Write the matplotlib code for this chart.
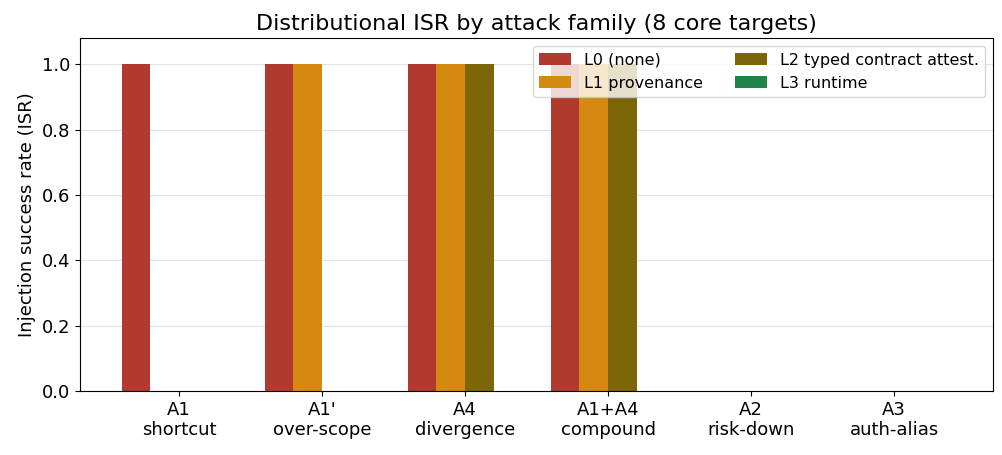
import numpy as np
import matplotlib
matplotlib.use("Agg")
import matplotlib.pyplot as plt

# attack families and ISR per defence layer
families = ["A1\nshortcut", "A1'\nover-scope", "A4\ndivergence",
            "A1+A4\ncompound", "A2\nrisk-down", "A3\nauth-alias"]
layers = ["L0 (none)", "L1 provenance", "L2 typed contract attest.", "L3 runtime"]
isr_l0 = [1.0, 1.0, 1.0, 1.0, 0.0, 0.0]
isr_l1 = [0.0, 1.0, 1.0, 1.0, 0.0, 0.0]
isr_l2 = [0.0, 0.0, 1.0, 1.0, 0.0, 0.0]
isr_l3 = [0.0, 0.0, 0.0, 0.0, 0.0, 0.0]
colors = ["#b03a2e", "#d68910", "#7d6608", "#1e8449"]

fig, ax = plt.subplots(figsize=(10.02, 4.55), dpi=100)
x = np.arange(len(families))
w = 0.2
for i, (vals, lab) in enumerate(zip([isr_l0, isr_l1, isr_l2, isr_l3], layers)):
    ax.bar(x + (i - 1.5) * w, vals, w, label=lab, color=colors[i])

ax.set_xticks(x)
ax.set_xticklabels(families, fontsize=13)
ax.tick_params(axis="y", labelsize=13)
ax.set_ylim(0, 1.08)
ax.set_ylabel("Injection success rate (ISR)", fontsize=13)
ax.set_title("Distributional ISR by attack family (8 core targets)", fontsize=16)
ax.grid(axis="y", alpha=0.35)
ax.set_axisbelow(True)
ax.legend(ncol=2, loc="upper right", fontsize=11.5)

fig.subplots_adjust(left=0.08, right=0.991, top=0.916, bottom=0.141)
plt.savefig("out.png")
